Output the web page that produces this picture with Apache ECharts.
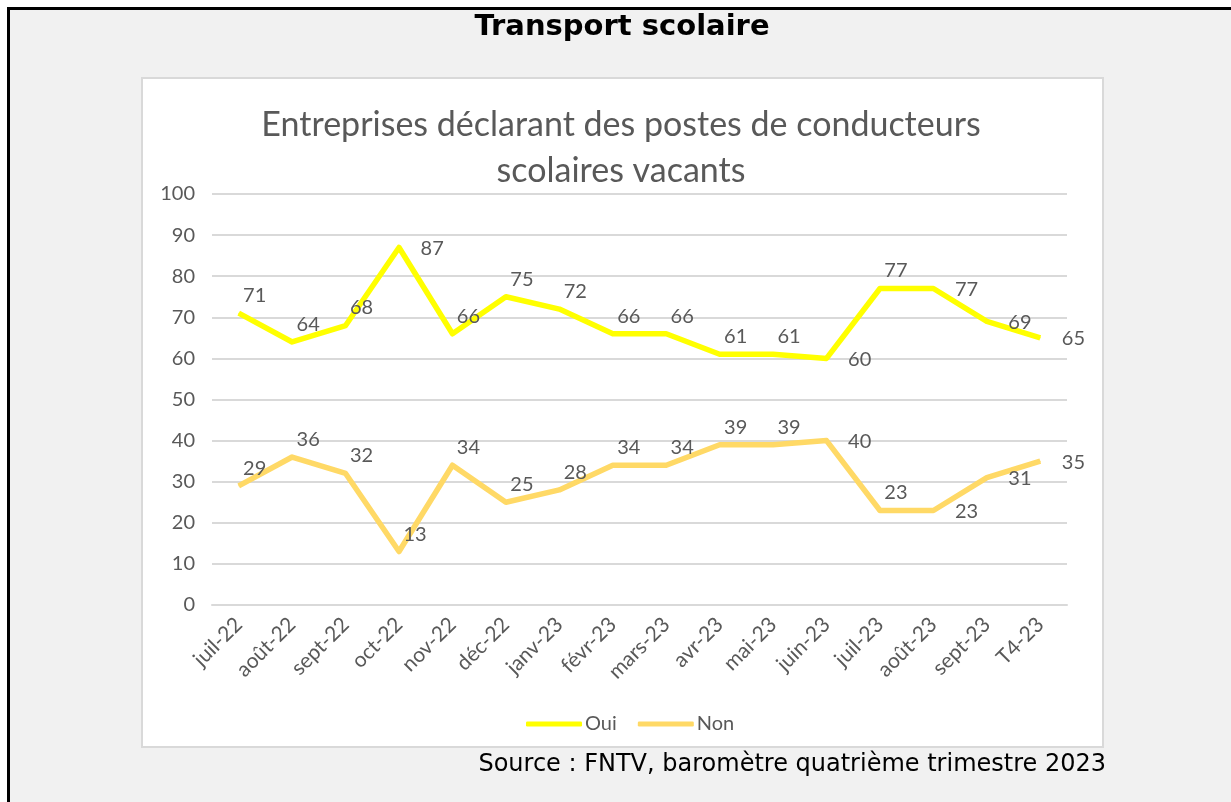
<!DOCTYPE html>
<html>
<head>
<meta charset="utf-8">
<script src="https://cdn.jsdelivr.net/npm/echarts@6/dist/echarts.min.js"></script>
<style>
    body { margin: 0; background: #fff; }
    #frame {
        position: absolute; left: 7px; top: 7px; width: 1224px; height: 795px;
        border-left: 3px solid #000; border-top: 3px solid #000;
        background: #f1f1f1; box-sizing: border-box;
    }
    #box {
        position: absolute; left: 141px; top: 77px; width: 963px; height: 671px;
        background: #fff; border: 2px solid #d9d9d9; box-sizing: border-box;
    }
    #chart { position: absolute; left: 0; top: 0; width: 1231px; height: 802px; }
</style>
</head>
<body>
<div id="frame"></div>
<div id="box"></div>
<div id="chart"></div>
<script>
const months = ['juil-22', 'août-22', 'sept-22', 'oct-22', 'nov-22', 'déc-22', 'janv-23', 'févr-23',
    'mars-23', 'avr-23', 'mai-23', 'juin-23', 'juil-23', 'août-23', 'sept-23', 'T4-23'];
const oui = [71, 64, 68, 87, 66, 75, 72, 66, 66, 61, 61, 60, 77, 77, 69, 65];
const non = [29, 36, 32, 13, 34, 25, 28, 34, 34, 39, 39, 40, 23, 23, 31, 35];
const yTicks = [0, 10, 20, 30, 40, 50, 60, 70, 80, 90, 100];

// points where the label sits to the right instead of above-right
const ouiRight = [3, 11, 13, 14, 15];
const nonRight = [11, 13, 14, 15];

const gray = '#595959';
const font = 'Lato, "Open Sans", sans-serif';

function withLabels(values, rightIdx) {
    return values.map(function(v, i) {
        const right = rightIdx.indexOf(i) >= 0;
        return {
            value: v,
            label: right
                ? { position: 'right', offset: [16, 1] }
                : { position: 'top', offset: [16, -2] }
        };
    });
}

const chart = echarts.init(document.getElementById('chart'));
chart.setOption({
    animation: false,
    graphic: [{
        type: 'text', z: 10,
        style: { text: 'Transport scolaire', font: 'bold 29px "DejaVu Sans"', fill: '#000', x: 622, y: 13, align: 'center' }
    }, {
        type: 'text',
        style: {
            text: 'Entreprises déclarant des postes de conducteurs\nscolaires vacants',
            font: '34px ' + font, fill: gray, x: 621, y: 102, align: 'center', lineHeight: 46
        }
    }, {
        type: 'text',
        style: { text: 'Source : FNTV, baromètre quatrième trimestre 2023', font: '24px "DejaVu Sans"', fill: '#000', x: 1106, y: 753, align: 'right' }
    }],
    grid: { left: 212, right: 164, top: 194, bottom: 197 },
    legend: {
        left: 521, top: 709,
        itemWidth: 56, itemHeight: 5, itemGap: 21,
        icon: 'roundRect',
        textStyle: { color: gray, fontSize: 20, fontFamily: font, padding: [0, 0, 0, -2] },
        data: ['Oui', 'Non']
    },
    xAxis: {
        type: 'category',
        data: months,
        boundaryGap: true,
        axisLine: { lineStyle: { color: '#d9d9d9', width: 2 } },
        axisTick: { length: 6, lineStyle: { color: '#d9d9d9', width: 2 } },
        axisLabel: { rotate: 45, color: gray, fontSize: 21, fontFamily: font, margin: 16, interval: 0 }
    },
    yAxis: {
        type: 'value',
        min: yTicks[0], max: yTicks[yTicks.length - 1], interval: 10,
        axisLine: { show: false },
        axisTick: { show: false },
        splitLine: { lineStyle: { color: '#d9d9d9', width: 2 } },
        axisLabel: { color: gray, fontSize: 20, fontFamily: font, margin: 17 }
    },
    series: [{
        name: 'Oui',
        type: 'line',
        data: withLabels(oui, ouiRight),
        symbol: 'circle', symbolSize: 1,
        color: '#ffff00',
        lineStyle: { width: 5.5, color: '#ffff00', join: 'round' },
        label: { show: true, color: gray, fontSize: 20, fontFamily: font }
    }, {
        name: 'Non',
        type: 'line',
        data: withLabels(non, nonRight),
        symbol: 'circle', symbolSize: 1,
        color: '#ffd966',
        lineStyle: { width: 5.5, color: '#ffd966', join: 'round' },
        label: { show: true, color: gray, fontSize: 20, fontFamily: font }
    }]
});
</script>
</body>
</html>
